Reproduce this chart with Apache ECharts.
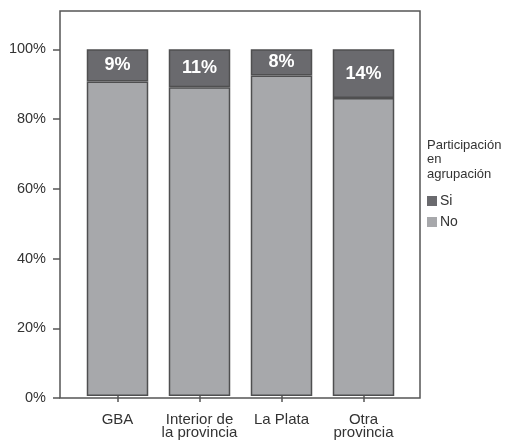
<!DOCTYPE html>
<html>
<head>
<meta charset="utf-8">
<script src="https://cdn.jsdelivr.net/npm/echarts@6/dist/echarts.min.js"></script>
<style>html,body{margin:0;padding:0;background:#fff}#c{width:509px;height:440px}</style>
</head>
<body>
<div id="c"></div>
<script>
const categories = ['GBA', 'Interior de\nla provincia', 'La Plata', 'Otra\nprovincia'];
const noValues = [90.7, 89.0, 92.4, 85.9];
const siValues = [9.3, 11.0, 7.6, 14.1];
const siLabels = ['9%', '11%', '8%', '14%'];
const yTicks = [0, 20, 40, 60, 80, 100];
const legendTitle = 'Participación\nen\nagrupación';

const FONT = '"Liberation Sans", Arial, sans-serif';
const chart = echarts.init(document.getElementById('c'));
chart.setOption({
  animation: false,
  textStyle: { fontFamily: FONT },
  title: {
    text: legendTitle, left: 422, top: 133,
    textStyle: { fontSize: 13, fontWeight: 'normal', color: '#333', lineHeight: 14.5, fontFamily: FONT }
  },
  legend: {
    data: ['Si', 'No'], orient: 'vertical', left: 422, top: 189,
    itemWidth: 10, itemHeight: 10, itemGap: 7, icon: 'rect',
    textStyle: { fontSize: 14, color: '#333', padding: [0, 0, 0, -2] },
    itemStyle: { borderWidth: 0 }
  },
  grid: [
    { left: 60, right: 89, top: 11, bottom: 42, show: true, borderColor: '#555', borderWidth: 1.5, backgroundColor: 'transparent' },
    { left: 76.5, right: 104.5, top: 11, bottom: 42 }
  ],
  xAxis: [
    { gridIndex: 0, type: 'value', show: false, min: 0, max: 1 },
    {
      gridIndex: 1, type: 'category', data: categories,
      axisLine: { show: false },
      axisTick: { show: true, alignWithLabel: true, length: 6, lineStyle: { color: '#555', width: 1.5 } },
      axisLabel: { fontSize: 15, color: '#333', lineHeight: 13, margin: 17, interval: 0 }
    }
  ],
  yAxis: [
    {
      gridIndex: 0, type: 'value', min: 0, max: 111,
      axisLine: { show: false },
      splitLine: { show: false },
      axisTick: { show: true, length: 7, customValues: yTicks, lineStyle: { color: '#555', width: 1.5 } },
      axisLabel: { fontSize: 14.5, color: '#333', margin: 14, customValues: yTicks, formatter: '{value}%' }
    },
    { gridIndex: 1, type: 'value', min: 0, max: 111, show: false }
  ],
  series: [
    {
      name: 'No', type: 'bar', stack: 'total', xAxisIndex: 1, yAxisIndex: 1,
      data: noValues, barCategoryGap: '25%',
      itemStyle: { color: '#a7a8ab', borderColor: '#4f4f50', borderWidth: 1.5 }
    },
    {
      name: 'Si', type: 'bar', stack: 'total', xAxisIndex: 1, yAxisIndex: 1,
      data: siValues, barCategoryGap: '25%',
      itemStyle: { color: '#6a6a6e', borderColor: '#4f4f50', borderWidth: 1.5 },
      label: {
        show: true, position: 'inside', color: '#fff', fontSize: 18, fontWeight: 'bold',
        formatter: p => siLabels[p.dataIndex]
      }
    }
  ]
});
</script>
</body>
</html>
